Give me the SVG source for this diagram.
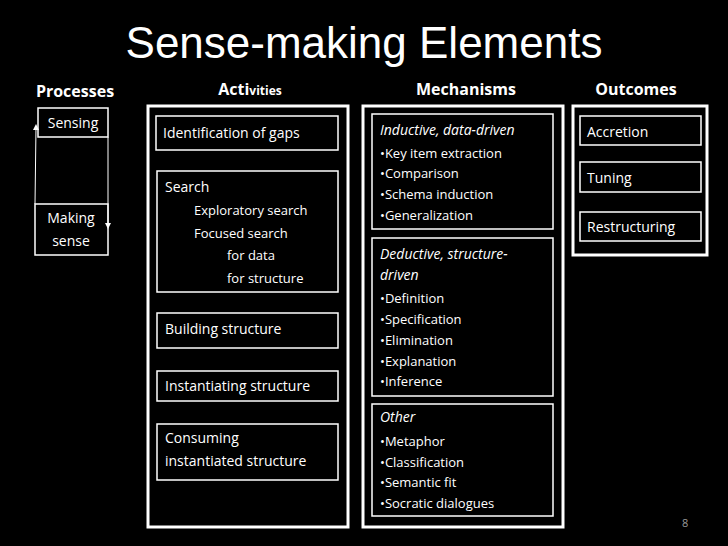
<svg xmlns="http://www.w3.org/2000/svg" width="728" height="546" viewBox="0 0 728 546">
<style>
text{font-family:"Open Sans","Liberation Sans",sans-serif;fill:#fff}
.b{fill:none;stroke:#fff;stroke-width:1.5}
.o{fill:none;stroke:#fff;stroke-width:3}
.h{font-weight:bold;font-size:16px}
.t{font-size:14px}
.s{font-size:13px}
.i{font-style:italic;font-size:14px}
</style>
<defs><marker id="a" viewBox="0 0 8 8" refX="4" refY="4" markerWidth="6" markerHeight="6" orient="auto"><path d="M0,0 L8,4 L0,8z" fill="#fff"/></marker></defs>
<rect width="728" height="546" fill="#000"/>
<text x="364" y="58" text-anchor="middle" style="font-size:44px;font-family:'Liberation Sans',sans-serif">Sense-making Elements</text>
<text x="75" y="97" class="h" text-anchor="middle">Processes</text>
<text x="250" y="95" class="h" text-anchor="middle">Acti<tspan style="font-size:12px">vities</tspan></text>
<text x="466" y="95" class="h" text-anchor="middle">Mechanisms</text>
<text x="636" y="95" class="h" text-anchor="middle">Outcomes</text>
<g id="sensing"><rect class="b" x="38" y="108" width="70" height="29"/><text x="73" y="128" class="t" text-anchor="middle">Sensing</text></g>
<g id="making"><rect class="b" x="35" y="204" width="73" height="51"/><text x="71" y="223" class="t" text-anchor="middle">Making</text><text x="71" y="246" class="t" text-anchor="middle">sense</text></g>
<g id="connectors">
<line x1="108" y1="137" x2="108" y2="226" stroke="#fff" stroke-width="1" marker-end="url(#a)"/>
<line x1="35" y1="204" x2="36" y2="127" stroke="#fff" stroke-width="1" marker-end="url(#a)"/>
</g>
<g id="activities">
<rect class="o" x="148" y="106" width="200" height="421"/>
<rect class="b" x="156" y="116" width="182" height="34"/><text x="163" y="138" class="t">Identification of gaps</text>
<rect class="b" x="157" y="171" width="181" height="121"/>
<text x="165" y="192" class="t">Search</text>
<text x="194" y="215" class="s">Exploratory search</text>
<text x="194" y="238" class="s">Focused search</text>
<text x="227" y="260" class="s">for data</text>
<text x="227" y="283" class="s">for structure</text>
<rect class="b" x="157" y="313" width="181" height="35"/><text x="165" y="334" class="t">Building structure</text>
<rect class="b" x="157" y="371" width="181" height="30"/><text x="165" y="391" class="t">Instantiating structure</text>
<rect class="b" x="157" y="424" width="181" height="56"/><text x="165" y="443" class="t">Consuming</text><text x="165" y="466" class="t">instantiated structure</text>
</g>
<g id="mechanisms">
<rect class="o" x="363" y="106" width="200" height="421"/>
<rect class="b" x="372" y="114" width="181" height="115"/>
<text x="380" y="135" class="i">Inductive, data-driven</text>
<text x="380" y="158" class="s">•Key item extraction</text>
<text x="380" y="178" class="s">•Comparison</text>
<text x="380" y="199" class="s">•Schema induction</text>
<text x="380" y="220" class="s">•Generalization</text>
<rect class="b" x="372" y="238" width="181" height="158"/>
<text x="380" y="259" class="i">Deductive, structure-</text>
<text x="380" y="280" class="i">driven</text>
<text x="380" y="303" class="s">•Definition</text>
<text x="380" y="324" class="s">•Specification</text>
<text x="380" y="345" class="s">•Elimination</text>
<text x="380" y="366" class="s">•Explanation</text>
<text x="380" y="386" class="s">•Inference</text>
<rect class="b" x="372" y="404" width="181" height="112"/>
<text x="380" y="422" class="i">Other</text>
<text x="380" y="446" class="s">•Metaphor</text>
<text x="380" y="467" class="s">•Classification</text>
<text x="380" y="487" class="s">•Semantic fit</text>
<text x="380" y="508" class="s">•Socratic dialogues</text>
</g>
<g id="outcomes">
<rect class="o" x="573" y="106" width="134" height="149"/>
<rect class="b" x="580" y="116" width="121" height="29"/><text x="587" y="137" class="t">Accretion</text>
<rect class="b" x="580" y="162" width="121" height="30"/><text x="587" y="183" class="t">Tuning</text>
<rect class="b" x="580" y="212" width="121" height="29"/><text x="587" y="232" class="t">Restructuring</text>
</g>
<text x="682" y="527" style="font-size:11px;fill:#999">8</text>
</svg>
